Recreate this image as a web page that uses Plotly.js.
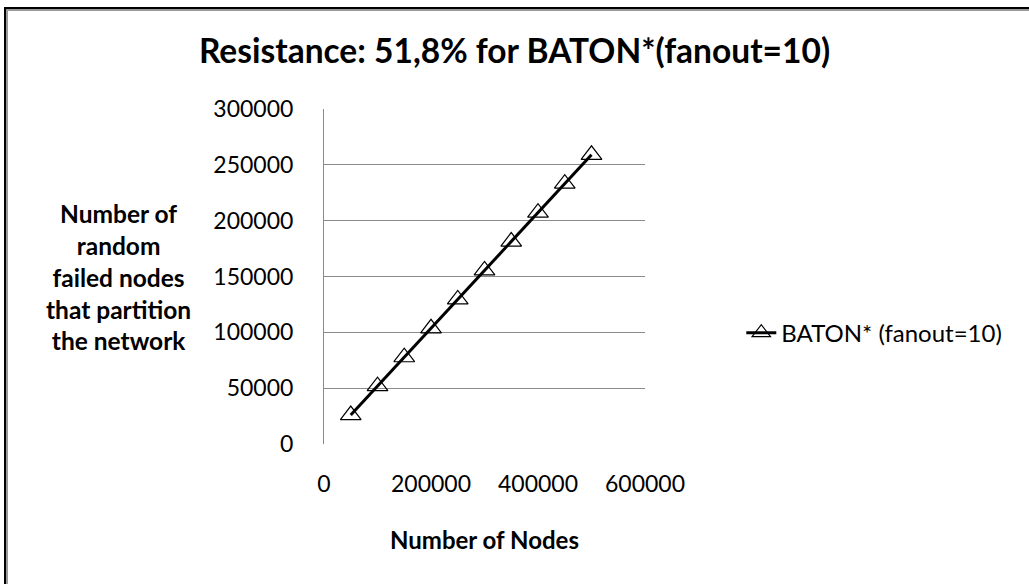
<!DOCTYPE html>
<html>
<head>
<meta charset="utf-8">
<script src="https://cdn.plot.ly/plotly-3.0.1.min.js"></script>
<style>
html,body{margin:0;padding:0;background:#fff;}
#wrap{position:relative;width:1029px;height:584px;overflow:hidden;}
#chart{position:absolute;left:0;top:0;width:1029px;height:584px;}
#bt{position:absolute;left:4px;top:7px;width:1025px;height:2px;background:#000;}
#bt2{position:absolute;left:6px;top:9px;width:1023px;height:2px;background:#999;}
#bl{position:absolute;left:4px;top:7px;width:2px;height:577px;background:#000;}
#bl2{position:absolute;left:6px;top:9px;width:2px;height:575px;background:#999;}
</style>
</head>
<body>
<div id="wrap">
<div id="chart"></div>
<div id="bt"></div><div id="bt2"></div><div id="bl"></div><div id="bl2"></div>
</div>
<script>
const seriesName = "BATON* (fanout=10)";
const nodes = [50000, 100000, 150000, 200000, 250000, 300000, 350000, 400000, 450000, 500000];
const failedNodes = [25900, 51800, 77700, 103600, 129500, 155400, 181300, 207200, 233100, 259000];
const titleText = "Resistance: 51,8% for BATON*(fanout=10)";
const xTitle = "Number of Nodes";
const yTitleLines = ["Number of", "random", "failed nodes", "that partition", "the network"];
const xTicks = [0, 200000, 400000, 600000];
const yTicks = [0, 50000, 100000, 150000, 200000, 250000, 300000];

const FONT = "Lato, 'Open Sans', sans-serif";

const trace = {
  x: nodes, y: failedNodes, name: seriesName,
  type: "scatter", mode: "lines+markers",
  line: {color: "#000", width: 3},
  marker: {symbol: "triangle-up-open", size: 18, color: "#000", line: {color: "#000", width: 1.2}}
};

const layout = {
  width: 1029, height: 584,
  paper_bgcolor: "#fff", plot_bgcolor: "#fff",
  margin: {l: 324, r: 384, t: 109, b: 140, pad: 0},
  title: {text: "<b>" + titleText + "</b>", font: {family: FONT, size: 33.5, color: "#000"},
          x: 0.5, xref: "container", xanchor: "center", y: 0.913, yref: "container", yanchor: "middle"},
  xaxis: {
    range: [0, 600000], tickmode: "array", tickvals: xTicks, ticktext: xTicks.map(String),
    showgrid: false, zeroline: false, showline: false, ticks: "",
    ticklabelstandoff: 24,
    tickfont: {family: FONT, size: 23, color: "#000"},
    title: {text: "<b>" + xTitle + "</b>", font: {family: FONT, size: 24, color: "#000"}, standoff: 36}
  },
  yaxis: {
    range: [0, 300000], tickmode: "array", tickvals: yTicks, ticktext: yTicks.map(String),
    showgrid: true, gridcolor: "#8a8a8a", gridwidth: 1,
    zeroline: false, showline: true, linecolor: "#8a8a8a", linewidth: 1, ticks: "",
    ticklabelstandoff: 25,
    tickfont: {family: FONT, size: 23, color: "#000"}
  },
  showlegend: true,
  legend: {x: 1.30, xanchor: "left", y: 0.331, yanchor: "middle",
           font: {family: FONT, size: 24, color: "#000"}, bgcolor: "rgba(0,0,0,0)"},
  annotations: [{
    text: "<b>" + yTitleLines.join("<br>") + "</b>",
    xref: "paper", yref: "paper", x: -0.641, y: 0.4985, xanchor: "center", yanchor: "middle",
    showarrow: false, align: "center", font: {family: FONT, size: 24.5, color: "#000"}
  }]
};

Plotly.newPlot("chart", [trace], layout, {displayModeBar: false, staticPlot: true});
</script>
</body>
</html>
